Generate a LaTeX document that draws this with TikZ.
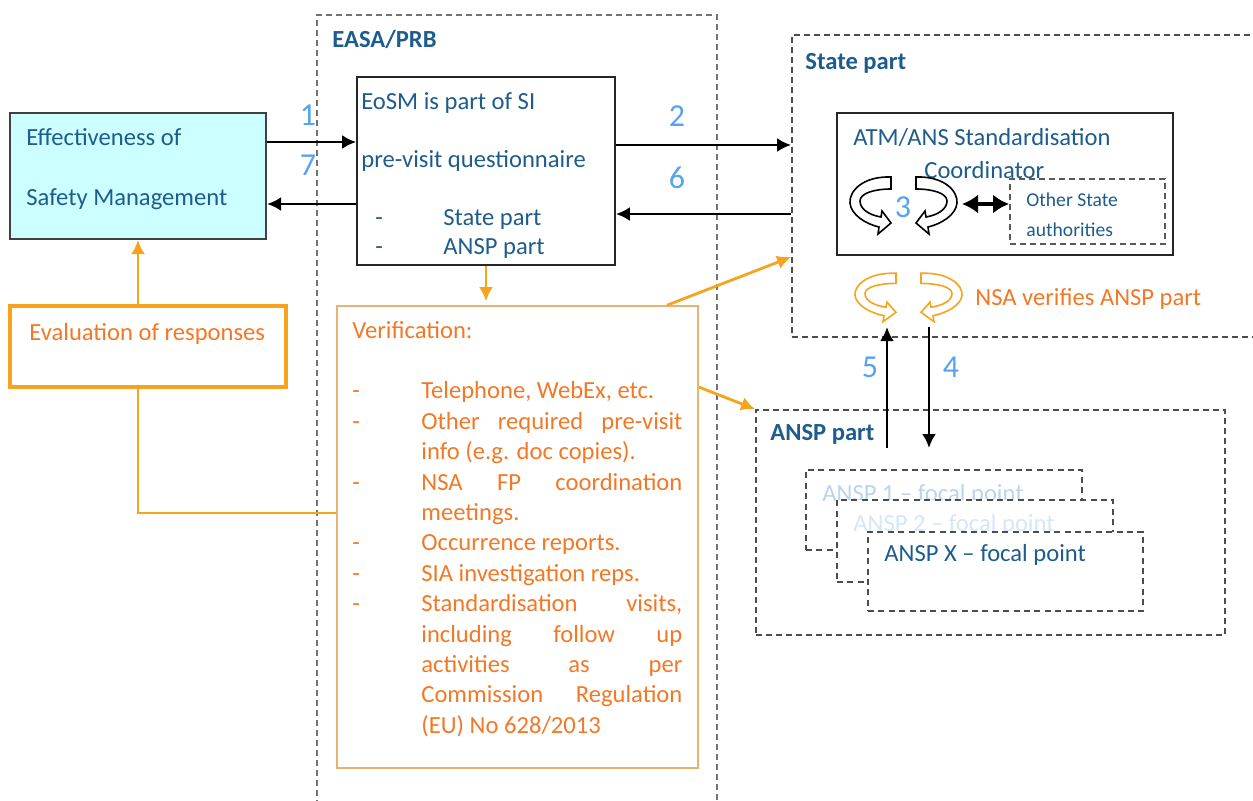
\documentclass[tikz,border=0pt]{standalone}
\usepackage{fontspec}
\setmainfont{Carlito}
\usepackage{xcolor}
\usetikzlibrary{arrows.meta}

\definecolor{textblue}{RGB}{30,92,140}
\definecolor{numblue}{RGB}{88,162,240}
\definecolor{noteorange}{RGB}{243,120,38}
\definecolor{linegold}{RGB}{246,163,30}
\definecolor{verifedge}{RGB}{230,180,112}
\definecolor{safecyan}{RGB}{204,255,255}
\definecolor{ansplight}{RGB}{186,212,238}
\definecolor{anspfaint}{RGB}{214,230,248}

\tikzset{
  box/.style={draw=black!85, line width=0.8pt},
  region/.style={draw=black!55, dash pattern=on 3pt off 2pt, line width=0.9pt},
  subregion/.style={draw=black!70, dash pattern=on 3pt off 2.2pt, line width=0.8pt, fill=white},
  lbl/.style={text=textblue, anchor=base west},
  num/.style={text=numblue, font=\fontsize{16}{18}\selectfont},
  arr/.style={-{Latex[length=7pt,width=7pt]}, line width=1.4pt},
  goldarr/.style={arr, draw=linegold},
  dblarr/.style={{Latex[length=8pt,width=9.5pt]}-{Latex[length=8pt,width=9.5pt]}, line width=2pt}
}

% ribbon-like turning arrow: #1 centre, #2 xscale, #3 yscale, #4 colour
\newcommand{\turnarrow}[4]{%
  \draw[#4, line width=0.8pt, fill=white, shift={#1}, xscale=#2, yscale=#3]
    (20,-28) .. controls (-8,-29) and (-22,-14) .. (-21,-2)
    .. controls (-20,10) and (-5,19) .. (8,22)
    -- (7,29) -- (20,18) -- (11,6) -- (10,12)
    .. controls (-2,10) and (-11,4) .. (-11,-4)
    .. controls (-11,-12) and (4,-16) .. (20,-16) -- cycle;}

\begin{document}
\begin{tikzpicture}[x=0.5pt, y=-0.5pt,
  every node/.style={font=\fontsize{12.3}{15.2}\selectfont, inner sep=0pt}]
\useasboundingbox (0,0) rectangle (1253,800);
\clip (0,0) rectangle (1253,800);

% dashed regions
\node at (517, 412.5) [region, minimum width=200pt, minimum height=397.5pt] (easa) {};
\node at (1036, 186) [region, draw=black!70, minimum width=244pt, minimum height=151pt] (state) {};
\node at (990.5, 522.5) [region, draw=black!70, minimum width=234.5pt, minimum height=112.5pt] (anspregion) {};
\node at (332, 47) [lbl, font=\bfseries\fontsize{12.3}{15}\selectfont] (easalbl) {EASA/PRB};
\node at (805, 69) [lbl, font=\bfseries\fontsize{12.3}{15}\selectfont] (statelbl) {State part};
\node at (770, 440) [lbl, font=\bfseries\fontsize{12.3}{15}\selectfont] (anspl) {ANSP part};

% boxes
\node at (138, 176) [box, draw=black!75, line width=1pt, fill=safecyan, minimum width=128pt, minimum height=63pt] (eff) {};
\node at (26, 145) [lbl] (efftext) {\begin{tabular}[t]{@{}l@{}}Effectiveness of\\ \\ Safety Management\end{tabular}};
\node at (486, 171) [box, minimum width=129pt, minimum height=94pt] (eosm) {};
\node at (361, 109) [lbl, font=\fontsize{12.3}{14.5}\selectfont] (eosmtext) {\begin{tabular}[t]{@{}p{41pt}@{}l@{}}
\multicolumn{2}{@{}l@{}}{EoSM is part of SI}\\ \\
\multicolumn{2}{@{}l@{}}{pre-visit questionnaire}\\ \\
\hspace*{7pt}- & State part\\
\hspace*{7pt}- & ANSP part
\end{tabular}};
\node at (148, 346.5) [draw=linegold, line width=1.6pt, minimum width=138pt, minimum height=40.5pt] (eval) {};
\node at (29, 340) [lbl, text=noteorange] (evaltext) {Evaluation of responses};
\node at (517.5, 537) [draw=verifedge, line width=0.8pt, minimum width=180.5pt, minimum height=231pt] (verif) {};
\node at (352, 338) [lbl, text=noteorange] (veriftext) {\begin{tabular}[t]{@{}p{34.5pt}@{}l@{}}
\multicolumn{2}{@{}l@{}}{Verification:}\\ \\
- & Telephone, WebEx, etc.\\
- & \makebox[130.5pt][s]{Other required pre-visit}\\
  & info (e.g. doc copies).\\
- & \makebox[130.5pt][s]{NSA FP coordination}\\
  & meetings.\\
- & Occurrence reports.\\
- & SIA investigation reps.\\
- & \makebox[130.5pt][s]{Standardisation visits,}\\
  & \makebox[130.5pt][s]{including follow up}\\
  & \makebox[130.5pt][s]{activities as per}\\
  & \makebox[130.5pt][s]{Commission Regulation}\\
  & (EU) No 628/2013
\end{tabular}};

% state part
\node at (1005, 184) [box, line width=1pt, minimum width=168pt, minimum height=71pt] (atm) {};
\node at (853, 145) [lbl] (atmtext) {ATM/ANS Standardisation};
\node at (924, 178) [lbl] (coordtext) {Coordinator};
\node at (1087.5, 211.5) [region, draw=black!65, minimum width=77.5pt, minimum height=32.5pt] (other) {};
\node at (1026, 206) [lbl, font=\fontsize{9.8}{15}\selectfont] (othertext) {\begin{tabular}[t]{@{}l@{}}Other State\\ authorities\end{tabular}};
\turnarrow{(871,205)}{1}{1}{black}
\turnarrow{(936,205)}{-1}{1}{black}
\node at (903, 207) [num] (three) {3};
\coordinate (link) at (962, 204);
\draw [dblarr] (link) -- (other.west |- link);
\turnarrow{(876,297)}{1}{0.85}{linegold}
\turnarrow{(941,297)}{-1}{0.85}{linegold}
\node at (975, 305) [lbl, text=noteorange] (nsatext) {NSA verifies ANSP part};

% ANSP focal points
\node at (944, 510) [subregion, minimum width=138pt, minimum height=40pt] (ansp1) {};
\node at (822, 501) [lbl, text=ansplight] (ansp1text) {ANSP 1 – focal point};
\node at (975, 541) [subregion, minimum width=138pt, minimum height=41pt] (ansp2) {};
\node at (853, 531) [lbl, text=anspfaint] (ansp2text) {ANSP 2 – focal point};
\node at (1005.5, 571.5) [subregion, minimum width=137.5pt, minimum height=39.5pt] (anspx) {};
\node at (884, 561) [lbl] (anspxtext) {ANSP X – focal point};

% numbered flows
\draw [arr] (eff.east |- 0,142) -- (eosm.west |- 0,142);
\draw [arr] (eosm.west |- 0,204) -- (eff.east |- 0,204);
\draw [arr] (eosm.east |- 0,145) -- (state.west |- 0,145);
\draw [arr] (state.west |- 0,214) -- (eosm.east |- 0,214);
\coordinate (up5a) at (887, 448);
\coordinate (up5b) at (887, 327);
\coordinate (dn4a) at (929, 327);
\coordinate (dn4b) at (929, 448);
\draw [arr] (up5a) -- (up5b);
\draw [arr] (dn4a) -- (dn4b);
\node at (308, 115) [num] (n1) {1};
\node at (308, 165) [num] (n7) {7};
\node at (677, 116) [num] (n2) {2};
\node at (677, 178) [num] (n6) {6};
\node at (870, 367) [num] (n5) {5};
\node at (951, 367) [num] (n4) {4};

% verification flows
\draw [goldarr, shorten >=2pt] (eosm.south) -- (verif.north -| eosm.south);
\draw [goldarr] (verif.north -| 667,0) -- (state.west |- 0,257);
\draw [goldarr] (verif.east |- 0,387) -- (anspregion.north west);
\draw [goldarr] (eval.north -| eff.south) -- (eff.south);
\draw [linegold, line width=1.4pt] (eval.south -| eff.south) |- (verif.west |- 0,513);
\end{tikzpicture}
\end{document}
